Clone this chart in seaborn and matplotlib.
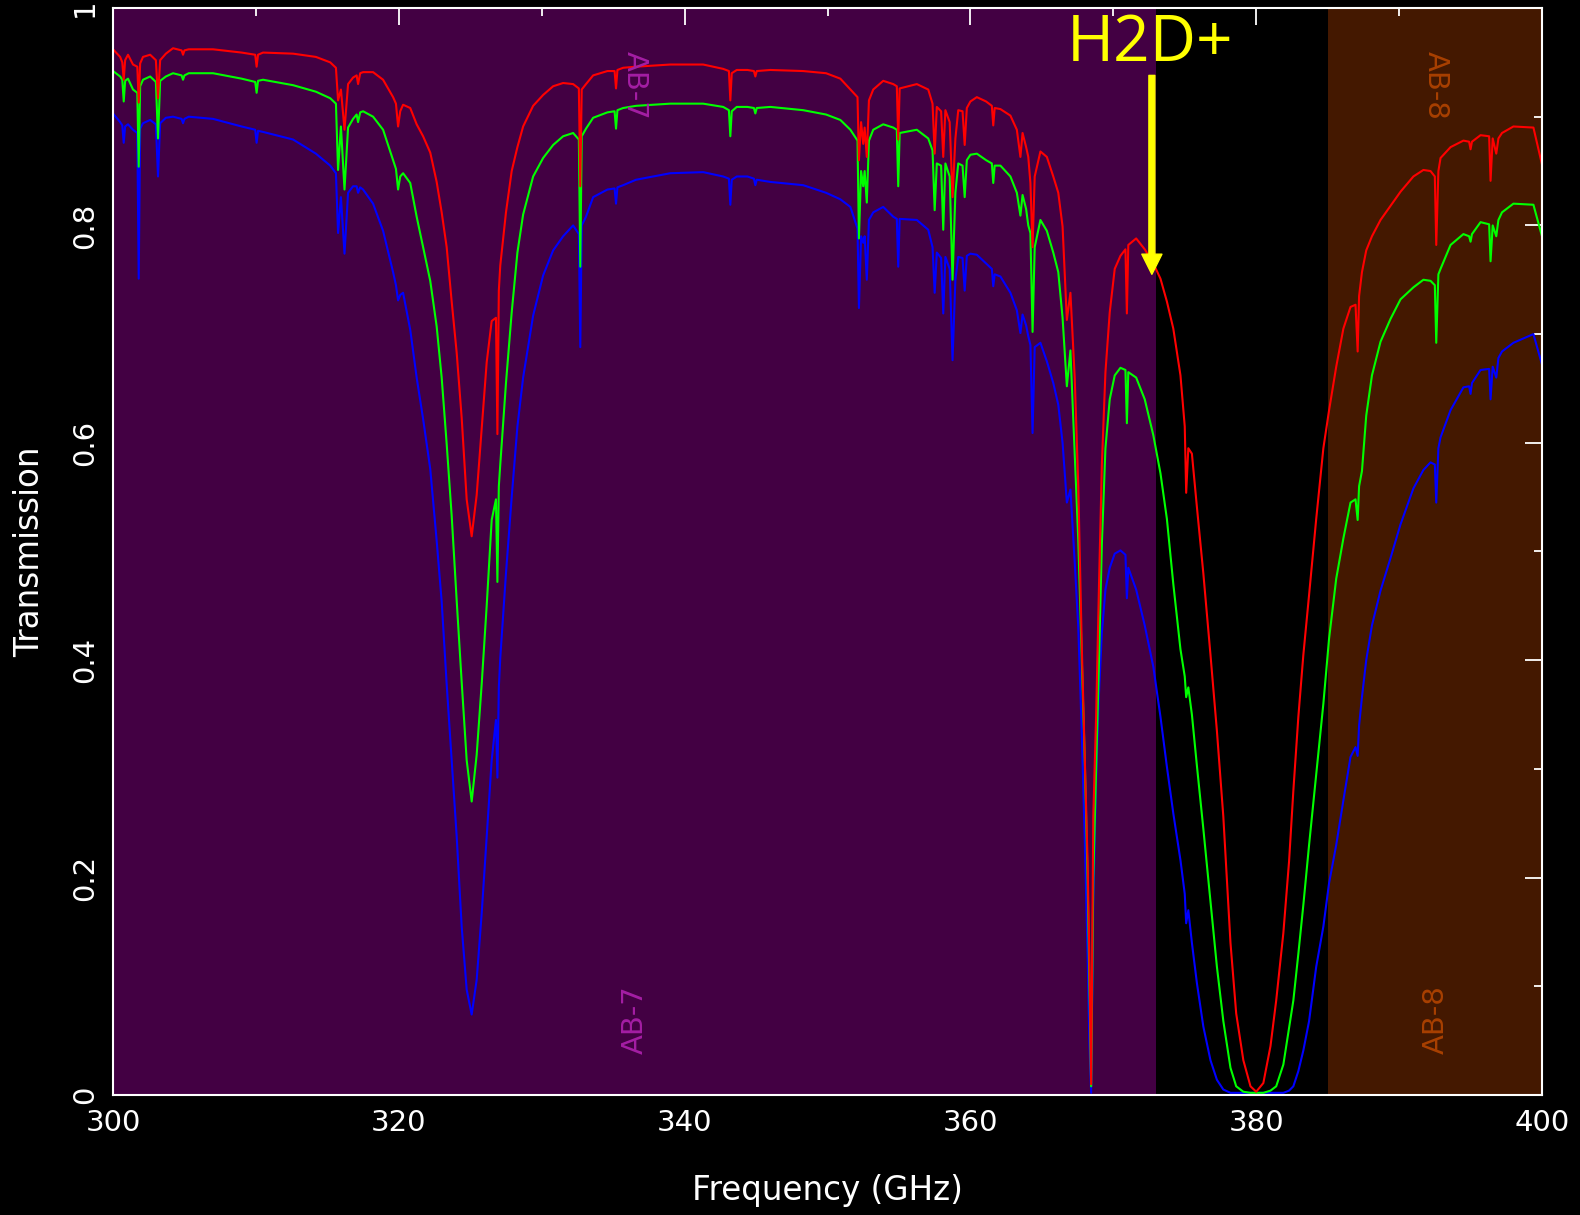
import matplotlib
matplotlib.use("Agg")
import matplotlib.pyplot as plt
import pandas as pd
import seaborn as sns
from matplotlib.ticker import MultipleLocator, FuncFormatter

# ---------------- data ----------------
freq_ghz = [
    300.0, 300.5, 300.65, 300.75, 300.85, 301.05, 301.4, 301.7, 301.8, 301.9,
    302.1, 302.6, 303.0, 303.15, 303.3, 303.7, 304.2, 304.8, 304.9, 305.0,
    305.3, 307.0, 309.0, 309.95, 310.05, 310.15, 310.5, 312.6, 314.2, 315.2,
    315.6, 315.75, 315.95, 316.2, 316.45, 316.8, 317.05, 317.15, 317.3, 317.5,
    318.2, 318.9, 319.6, 319.8, 319.95, 320.1, 320.3, 320.8, 321.25, 321.7,
    322.2, 322.65, 323.0, 323.35, 323.7, 324.05, 324.4, 324.75, 325.1, 325.45,
    325.8, 326.15, 326.5, 326.8, 326.9, 327.0, 327.1, 327.5, 327.9, 328.3,
    328.7, 329.4, 330.1, 330.8, 331.5, 332.2, 332.6, 332.7, 332.8, 333.1,
    333.6, 334.6, 335.1, 335.2, 335.3, 335.7, 336.6, 339.0, 341.3, 342.7,
    343.1, 343.2, 343.3, 343.65, 344.4, 344.85, 344.95, 345.05, 346.0, 348.3,
    349.9, 350.9, 351.6, 352.1, 352.2, 352.35, 352.5, 352.6, 352.75, 352.9,
    353.2, 353.9, 354.6, 354.85, 354.95, 355.05, 356.25, 357.05, 357.35, 357.5,
    357.65, 357.95, 358.1, 358.25, 358.55, 358.75, 358.95, 359.15, 359.45, 359.6,
    359.75, 360.0, 360.45, 361.1, 361.5, 361.6, 361.7, 362.1, 362.8, 363.25,
    363.5, 363.65, 363.9, 364.05, 364.2, 364.35, 364.5, 364.9, 365.35, 365.8,
    366.15, 366.45, 366.75, 367.0, 367.3, 367.55, 367.8, 368.0, 368.2, 368.32,
    368.45, 368.6, 368.8, 369.0, 369.2, 369.45, 369.75, 370.1, 370.5, 370.85,
    370.95, 371.05, 371.6, 372.2, 372.8, 373.3, 373.75, 374.2, 374.7, 375.0,
    375.1, 375.25, 375.5, 375.85, 376.3, 376.8, 377.25, 377.7, 378.2, 378.6,
    379.1, 379.6, 380.0, 380.5, 381.0, 381.4, 381.9, 382.3, 382.6, 382.95,
    383.3, 383.7, 384.2, 384.7, 385.1, 385.6, 386.1, 386.6, 386.95, 387.1,
    387.2, 387.4, 387.7, 388.1, 388.7, 389.4, 390.1, 391.0, 391.7, 392.2,
    392.5, 392.6, 392.75, 392.9, 393.6, 394.5, 394.9, 395.0, 395.1, 395.7,
    396.3, 396.4, 396.55, 396.8, 396.95, 397.2, 398.0, 399.4, 400.0,
]

trans_red = [
    .962, .955, .950, .934, .952, .957, .948, .946, .913, .949,
    .955, .957, .952, .917, .952, .958, .963, .961, .957, .961,
    .962, .962, .959, .957, .946, .957, .959, .958, .955, .950,
    .945, .915, .925, .888, .930, .936, .938, .930, .940, .941,
    .941, .934, .918, .912, .891, .905, .911, .908, .893, .882,
    .867, .840, .812, .780, .730, .683, .623, .548, .514, .552,
    .613, .674, .712, .715, .608, .740, .763, .812, .850, .872,
    .891, .910, .920, .928, .931, .930, .926, .836, .925, .930,
    .938, .942, .942, .926, .943, .945, .946, .948, .948, .944,
    .942, .915, .940, .943, .943, .942, .937, .942, .943, .942,
    .940, .935, .925, .918, .860, .895, .875, .890, .863, .915,
    .925, .933, .930, .928, .879, .926, .930, .925, .912, .866,
    .909, .905, .863, .906, .895, .826, .880, .906, .905, .874,
    .908, .914, .918, .914, .910, .892, .908, .907, .901, .888,
    .863, .885, .872, .863, .839, .780, .845, .868, .863, .845,
    .830, .799, .713, .738, .660, .560, .410, .312, .215, .130,
    .010, .256, .350, .470, .580, .665, .720, .760, .772, .778,
    .719, .782, .788, .778, .765, .751, .730, .705, .662, .615,
    .554, .595, .590, .541, .480, .405, .335, .256, .140, .075,
    .032, .008, .003, .011, .045, .087, .149, .215, .280, .348,
    .405, .460, .530, .595, .630, .670, .705, .725, .727, .684,
    .735, .757, .777, .790, .805, .818, .831, .845, .851, .850,
    .845, .782, .850, .862, .872, .878, .877, .870, .877, .883,
    .882, .841, .880, .866, .880, .885, .891, .890, .856,
]

trans_green = [
    .942, .937, .934, .914, .933, .935, .925, .922, .854, .928,
    .934, .937, .932, .880, .933, .937, .940, .938, .934, .938,
    .940, .940, .935, .932, .922, .933, .934, .929, .923, .917,
    .912, .851, .891, .833, .890, .898, .902, .895, .904, .905,
    .900, .888, .860, .852, .833, .845, .848, .839, .808, .780,
    .749, .707, .660, .599, .533, .455, .380, .308, .270, .313,
    .378, .450, .529, .548, .472, .560, .580, .655, .720, .775,
    .810, .845, .862, .874, .882, .885, .879, .762, .882, .889,
    .899, .904, .905, .889, .906, .908, .910, .912, .912, .909,
    .906, .882, .905, .909, .909, .908, .903, .908, .909, .906,
    .902, .897, .888, .878, .788, .850, .836, .850, .821, .878,
    .888, .893, .890, .888, .836, .885, .888, .880, .869, .814,
    .857, .855, .796, .857, .845, .750, .830, .857, .855, .826,
    .860, .865, .866, .860, .857, .839, .855, .855, .845, .830,
    .809, .828, .815, .800, .793, .702, .780, .805, .795, .775,
    .757, .715, .652, .685, .590, .510, .400, .310, .200, .110,
    .008, .200, .300, .400, .507, .595, .640, .662, .669, .667,
    .618, .665, .660, .640, .607, .572, .530, .470, .410, .385,
    .366, .375, .350, .303, .245, .178, .118, .068, .025, .008,
    .003, .002, .002, .002, .004, .008, .028, .062, .087, .130,
    .175, .230, .295, .360, .420, .475, .512, .545, .548, .529,
    .560, .574, .625, .662, .693, .714, .732, .743, .750, .749,
    .745, .692, .755, .760, .782, .792, .790, .785, .792, .803,
    .801, .767, .800, .790, .805, .812, .820, .819, .790,
]

trans_blue = [
    .903, .895, .892, .876, .891, .893, .888, .885, .751, .889,
    .894, .897, .893, .845, .894, .899, .900, .898, .894, .898,
    .900, .898, .891, .888, .876, .887, .886, .879, .866, .855,
    .848, .793, .826, .774, .830, .836, .836, .830, .835, .833,
    .820, .795, .757, .745, .731, .736, .738, .704, .660, .622,
    .576, .510, .454, .378, .308, .238, .155, .097, .074, .106,
    .167, .238, .308, .345, .292, .375, .402, .480, .550, .615,
    .660, .717, .754, .777, .790, .800, .792, .688, .800, .808,
    .826, .833, .834, .820, .835, .837, .842, .848, .849, .845,
    .843, .819, .842, .845, .845, .843, .837, .842, .840, .837,
    .830, .824, .817, .797, .724, .790, .784, .790, .750, .805,
    .812, .817, .808, .806, .762, .806, .805, .796, .780, .738,
    .775, .770, .719, .771, .760, .676, .750, .771, .770, .740,
    .772, .774, .773, .765, .760, .744, .755, .753, .738, .722,
    .701, .718, .708, .698, .690, .609, .688, .692, .675, .655,
    .635, .600, .545, .557, .490, .430, .330, .235, .130, .050,
    .002, .180, .290, .370, .425, .465, .485, .498, .501, .497,
    .457, .485, .465, .432, .394, .348, .302, .259, .216, .185,
    .158, .170, .140, .103, .063, .032, .014, .005, .002, .002,
    .002, .002, .002, .002, .002, .002, .002, .004, .008, .022,
    .041, .068, .118, .155, .195, .230, .271, .311, .320, .312,
    .340, .366, .400, .432, .464, .494, .525, .558, .575, .582,
    .580, .545, .595, .605, .630, .651, .652, .645, .655, .667,
    .668, .640, .670, .660, .678, .684, .692, .700, .672,
]

band7_range = [300.0, 373.0]
band8_range = [385.0, 400.0]
band_labels = ["AB-7", "AB-8"]
band_label_freq = [336.5, 392.6]
line_label = "H2D+"
line_freq = 372.7

assert len(freq_ghz) == len(trans_red) == len(trans_green) == len(trans_blue)

# ---------------- style ----------------
sns.set_theme(style="dark", rc={
    "axes.facecolor": "black", "figure.facecolor": "black",
    "axes.edgecolor": "white", "text.color": "white",
    "xtick.color": "white", "ytick.color": "white",
    "axes.labelcolor": "white", "axes.grid": False,
})
plt.rcParams["font.family"] = ["DejaVu Sans"]

fig = plt.figure(figsize=(15.8, 12.15), dpi=100)
ax = fig.add_axes([113 / 1580, 1 - 1095 / 1215, 1429 / 1580, 1087 / 1215])
ax.set_facecolor("black")

ax.axvspan(band7_range[0], band7_range[1], color="#430043", lw=0, zorder=0)
ax.axvspan(band8_range[0], band8_range[1], color="#441800", lw=0, zorder=0)

df = pd.DataFrame({"freq": freq_ghz, "red": trans_red,
                   "green": trans_green, "blue": trans_blue})
for col, c in [("blue", "#0000ff"), ("green", "#00ff00"), ("red", "#ff0000")]:
    sns.lineplot(data=df, x="freq", y=col, color=c, lw=1.5, ax=ax,
                 estimator=None, sort=False, zorder=3)

ax.set_xlim(300, 400)
ax.set_ylim(0, 1)

ax.xaxis.set_major_locator(MultipleLocator(20))
ax.xaxis.set_minor_locator(MultipleLocator(10))
ax.yaxis.set_major_locator(MultipleLocator(0.2))
ax.yaxis.set_minor_locator(MultipleLocator(0.1))


def yfmt(v, pos):
    if abs(v) < 1e-9:
        return "0"
    if abs(v - 1) < 1e-9:
        return "1"
    return f"{v:.1f}"


ax.yaxis.set_major_formatter(FuncFormatter(yfmt))
ax.xaxis.set_major_formatter(FuncFormatter(lambda v, p: f"{v:.0f}"))

ax.tick_params(which="both", direction="in", top=True, right=True,
               colors="white", width=1.3)
ax.tick_params(which="major", length=12)
ax.tick_params(which="minor", length=6)
ax.tick_params(axis="both", which="major", labelsize=21, pad=10)
ax.tick_params(axis="y", which="major", labelrotation=90)
for lbl in ax.get_yticklabels():
    lbl.set_va("center")

for s in ax.spines.values():
    s.set_color("white")
    s.set_linewidth(1.5)
    s.set_zorder(5)

ax.set_xlabel("Frequency (GHz)", fontsize=23.5, color="white")
ax.xaxis.set_label_coords(0.5, -0.073)
ax.set_ylabel("Transmission", fontsize=23.5, color="white")
ax.yaxis.set_label_coords(-0.047, 0.5)

# band labels
band_colors = ["#a41ea4", "#a84000"]
for lab, fx, bc in zip(band_labels, band_label_freq, band_colors):
    ax.text(fx, 0.929, lab, rotation=-90, color=bc, fontsize=21,
            ha="center", va="center", zorder=4)
    ax.text(fx, 0.069, lab, rotation=90, color=bc, fontsize=21,
            ha="center", va="center", zorder=4)

# H2D+ annotation
ax.text(line_freq - 0.1, 0.951, line_label, color="#ffff00", fontsize=46,
        family=["Open Sans", "DejaVu Sans"], ha="center", va="baseline", zorder=6)
ax.annotate("", xy=(line_freq, 0.755), xytext=(line_freq, 0.938),
            arrowprops=dict(facecolor="#ffff00", edgecolor="#ffff00",
                            width=4.3, headwidth=14.5, headlength=14.5,
                            shrink=0), zorder=6)

fig.savefig("out.png", dpi=100, facecolor="black")
